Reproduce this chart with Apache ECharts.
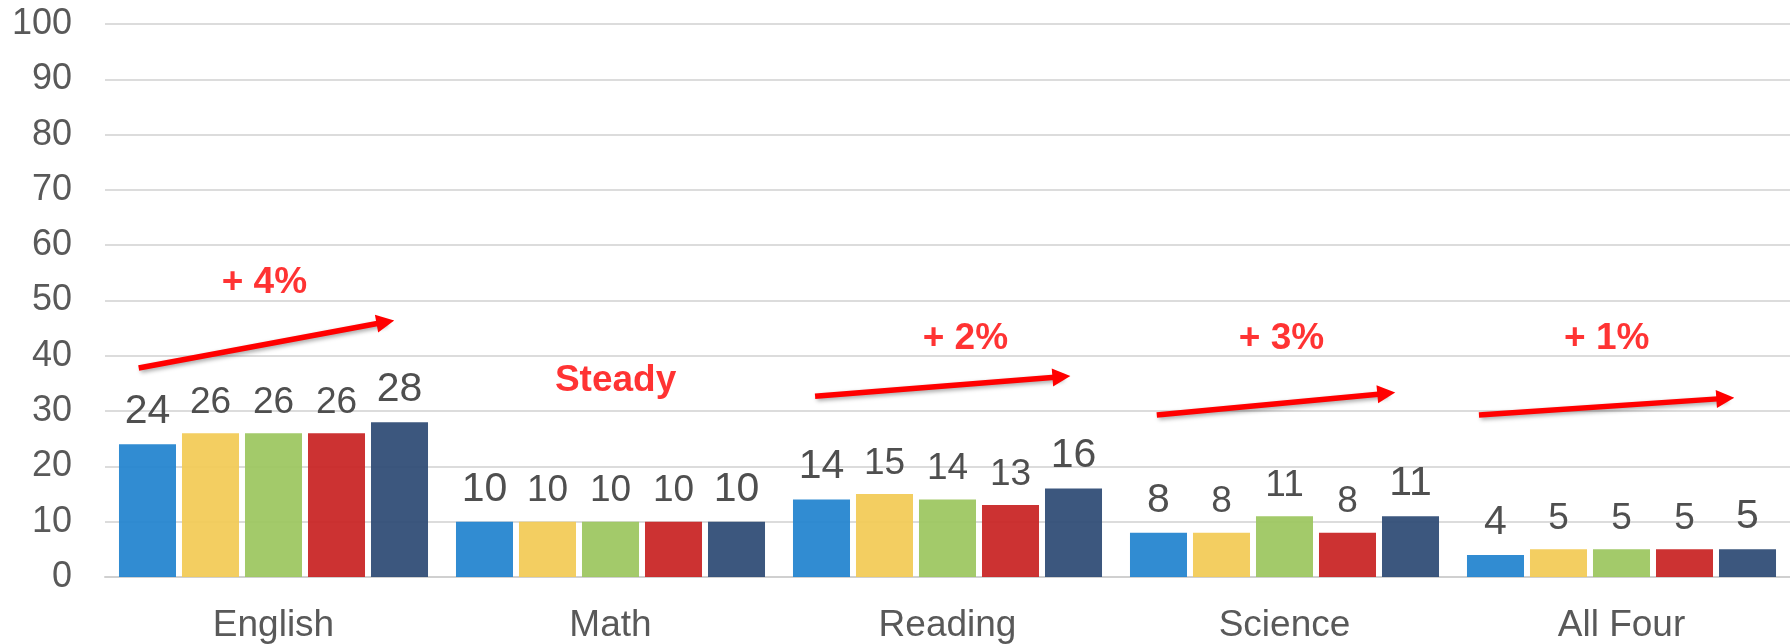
<!DOCTYPE html>
<html>
<head>
<meta charset="utf-8">
<script src="https://cdn.jsdelivr.net/npm/echarts@6/dist/echarts.min.js"></script>
<style>
  html, body { margin: 0; padding: 0; background: #fff; }
  #main { width: 1790px; height: 644px; }
</style>
</head>
<body>
<div id="main"></div>
<script>
var categories = ["English", "Math", "Reading", "Science", "All Four"];
var seriesNames = ["Year 1", "Year 2", "Year 3", "Year 4", "Year 5"];
var year1 = [24, 10, 14, 8, 4];
var year2 = [26, 10, 15, 8, 5];
var year3 = [26, 10, 14, 11, 5];
var year4 = [26, 10, 13, 8, 5];
var year5 = [28, 10, 16, 11, 5];
var yTicks = [0, 10, 20, 30, 40, 50, 60, 70, 80, 90, 100];

// trend notes: [x on 0..5 scale, y value]
var noteTexts = ["+ 4%", "Steady", "+ 2%", "+ 3%", "+ 1%"];
var notePos = [[0.473, 53.2], [1.515, 35.4], [2.553, 43.0], [3.491, 43.0], [4.456, 43.1]];
var arrows = [
  [[0.10, 37.8], [0.832, 46.1]],
  [[2.107, 32.7], [2.838, 36.2]],
  [[3.121, 29.3], [3.802, 33.2]],
  [[4.077, 29.3], [4.808, 32.3]]
];

var colors = ["#2082ce", "#f2ca54", "#9bc55d", "#c82121", "#2b4973"];
var labelSizes = [41, 37, 37, 37, 41];
var font = "'Liberation Sans', Arial, sans-serif";

var values = [year1, year2, year3, year4, year5];
var barSeries = values.map(function (vals, i) {
  return {
    name: seriesNames[i],
    type: "bar",
    data: vals,
    barGap: "10.5%",
    barCategoryGap: "8.3%",
    itemStyle: { color: colors[i], opacity: 0.92 },
    label: {
      show: true,
      position: "top",
      distance: 12,
      color: "#404040",
      fontSize: labelSizes[i],
      fontFamily: font
    }
  };
});

var chart = echarts.init(document.getElementById("main"));
chart.setOption({
  animation: false,
  grid: { left: 105, top: 24, width: 1690, height: 556 },
  xAxis: [
    {
      type: "category",
      data: categories,
      axisTick: { show: false },
      axisLine: { lineStyle: { color: "#d0d0d0", width: 2 } },
      axisLabel: { color: "#595959", fontSize: 37, fontFamily: font, margin: 30 }
    },
    { type: "value", min: 0, max: 5, show: false }
  ],
  yAxis: {
    type: "value",
    min: yTicks[0],
    max: yTicks[yTicks.length - 1],
    interval: 10,
    axisLine: { show: false },
    axisTick: { show: false },
    splitLine: { lineStyle: { color: "#dcdcdc", width: 2 } },
    axisLabel: { color: "#595959", fontSize: 36, fontFamily: font, margin: 33 }
  },
  series: barSeries.concat([
    {
      type: "lines",
      coordinateSystem: "cartesian2d",
      xAxisIndex: 1,
      yAxisIndex: 0,
      symbol: ["none", "triangle"],
      symbolSize: [16, 18],
      lineStyle: {
        color: "#ff0000", width: 5.5, opacity: 1,
        shadowColor: "rgba(0,0,0,0.35)", shadowBlur: 4, shadowOffsetX: 2, shadowOffsetY: 2
      },
      data: arrows.map(function (a) { return { coords: a }; }),
      z: 5
    },
    {
      type: "scatter",
      xAxisIndex: 1,
      yAxisIndex: 0,
      symbolSize: 1,
      itemStyle: { color: "rgba(0,0,0,0)" },
      label: {
        show: true,
        position: "inside",
        formatter: "{b}",
        color: "#ff0000",
        fontWeight: "bold",
        fontSize: 37,
        fontFamily: font
      },
      data: noteTexts.map(function (t, i) { return { name: t, value: notePos[i] }; }),
      z: 6
    }
  ])
});
</script>
</body>
</html>
